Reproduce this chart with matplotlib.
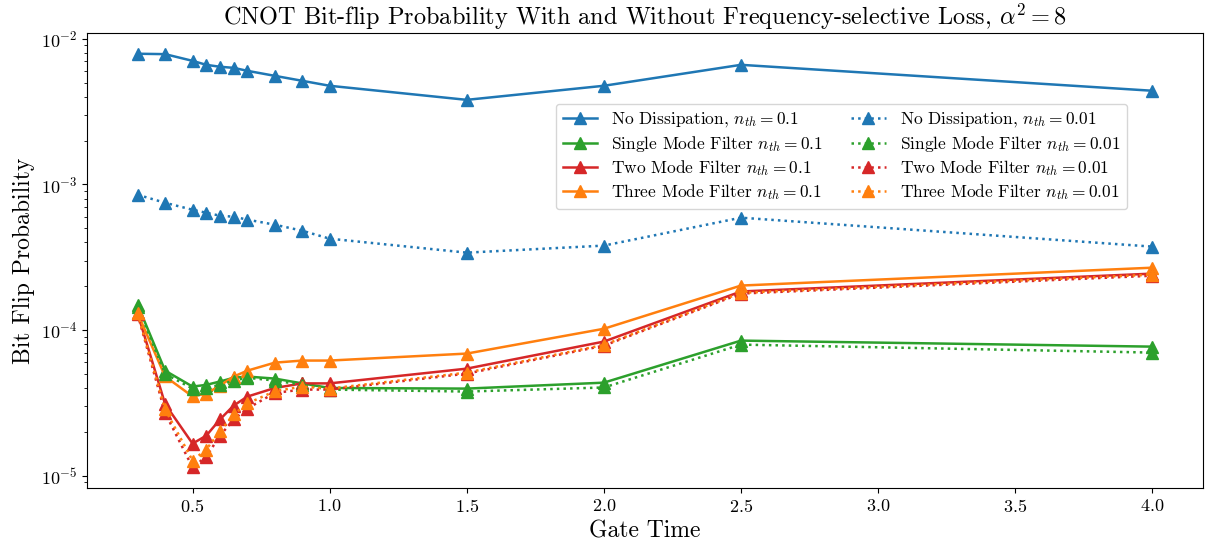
import matplotlib
matplotlib.use("Agg")
import matplotlib.pyplot as plt

plt.rcParams['font.family'] = 'serif'
plt.rcParams['font.serif'] = ['cmr10']
plt.rcParams['mathtext.fontset'] = 'cm'
plt.rcParams['axes.formatter.use_mathtext'] = True
plt.rcParams['axes.unicode_minus'] = False

# gate times
gate_time = [0.3, 0.4, 0.5, 0.55, 0.6, 0.65, 0.7, 0.8, 0.9, 1.0, 1.5, 2.0, 2.5, 4.0]

# bit flip probabilities, n_th = 0.1
no_diss_01 = [7.9e-3, 7.85e-3, 7.06e-3, 6.63e-3, 6.43e-3, 6.32e-3, 6.03e-3,
              5.57e-3, 5.15e-3, 4.76e-3, 3.81e-3, 4.76e-3, 6.63e-3, 4.40e-3]
single_01 = [1.49e-4, 5.26e-5, 4.09e-5, 4.2e-5, 4.43e-5, 4.7e-5, 4.79e-5,
             4.64e-5, 4.3e-5, 4.0e-5, 3.96e-5, 4.35e-5, 8.46e-5, 7.69e-5]
two_01 = [1.3e-4, 3.1e-5, 1.66e-5, 1.88e-5, 2.43e-5, 3.03e-5, 3.49e-5,
          4.0e-5, 4.3e-5, 4.3e-5, 5.43e-5, 8.33e-5, 1.84e-4, 2.44e-4]
three_01 = [1.3e-4, 4.8e-5, 3.5e-5, 3.66e-5, 4.15e-5, 4.79e-5, 5.26e-5,
            5.97e-5, 6.17e-5, 6.17e-5, 6.89e-5, 1.02e-4, 2.02e-4, 2.68e-4]

# bit flip probabilities, n_th = 0.01
no_diss_001 = [8.49e-4, 7.48e-4, 6.70e-4, 6.39e-4, 6.10e-4, 6.00e-4, 5.73e-4,
               5.29e-4, 4.81e-4, 4.24e-4, 3.40e-4, 3.80e-4, 5.91e-4, 3.74e-4]
single_001 = [1.45e-4, 5.0e-5, 3.96e-5, 4.0e-5, 4.2e-5, 4.5e-5, 4.7e-5,
              4.5e-5, 4.2e-5, 3.9e-5, 3.78e-5, 4.03e-5, 7.94e-5, 7.00e-5]
two_001 = [1.28e-4, 2.7e-5, 1.14e-5, 1.35e-5, 1.88e-5, 2.43e-5, 2.89e-5,
           3.7e-5, 3.9e-5, 3.9e-5, 5.02e-5, 7.81e-5, 1.78e-4, 2.36e-4]
three_001 = [1.3e-4, 2.85e-5, 1.27e-5, 1.51e-5, 2.01e-5, 2.63e-5, 3.13e-5,
             3.8e-5, 4.09e-5, 3.96e-5, 5.1e-5, 7.9e-5, 1.8e-4, 2.4e-4]

fig, ax = plt.subplots(figsize=(12.11, 5.51), dpi=100)
fig.subplots_adjust(left=0.0718, right=0.9934, top=0.940, bottom=0.1143)

kw = dict(marker='^', markersize=8, linewidth=1.8)

# solid lines first, then dotted
ax.plot(gate_time, no_diss_01, color='C0', label=r'No Dissipation, $n_{th}=0.1$', **kw)
ax.plot(gate_time, single_01, color='C2', label=r'Single Mode Filter $n_{th}=0.1$', **kw)
ax.plot(gate_time, two_01, color='C3', label=r'Two Mode Filter $n_{th}=0.1$', **kw)
ax.plot(gate_time, three_01, color='C1', label=r'Three Mode Filter $n_{th}=0.1$', **kw)

ax.plot(gate_time, no_diss_001, color='C0', linestyle=':', label=r'No Dissipation, $n_{th}=0.01$', **kw)
ax.plot(gate_time, single_001, color='C2', linestyle=':', label=r'Single Mode Filter $n_{th}=0.01$', **kw)
ax.plot(gate_time, two_001, color='C3', linestyle=':', label=r'Two Mode Filter $n_{th}=0.01$', **kw)
ax.plot(gate_time, three_001, color='C1', linestyle=':', label=r'Three Mode Filter $n_{th}=0.01$', **kw)

ax.set_yscale('log')
ax.set_title(r'CNOT Bit-flip Probability With and Without Frequency-selective Loss, $\alpha^2=8$',
             fontsize=17.5)
ax.set_xlabel('Gate Time', fontsize=17)
ax.set_ylabel('Bit Flip Probability', fontsize=17)
ax.tick_params(labelsize=13)

ax.legend(ncol=2, fontsize=12.5, loc='upper left', bbox_to_anchor=(0.42, 0.845),
          labelspacing=0.25, borderaxespad=0, columnspacing=1.6)

fig.savefig('out.png')
